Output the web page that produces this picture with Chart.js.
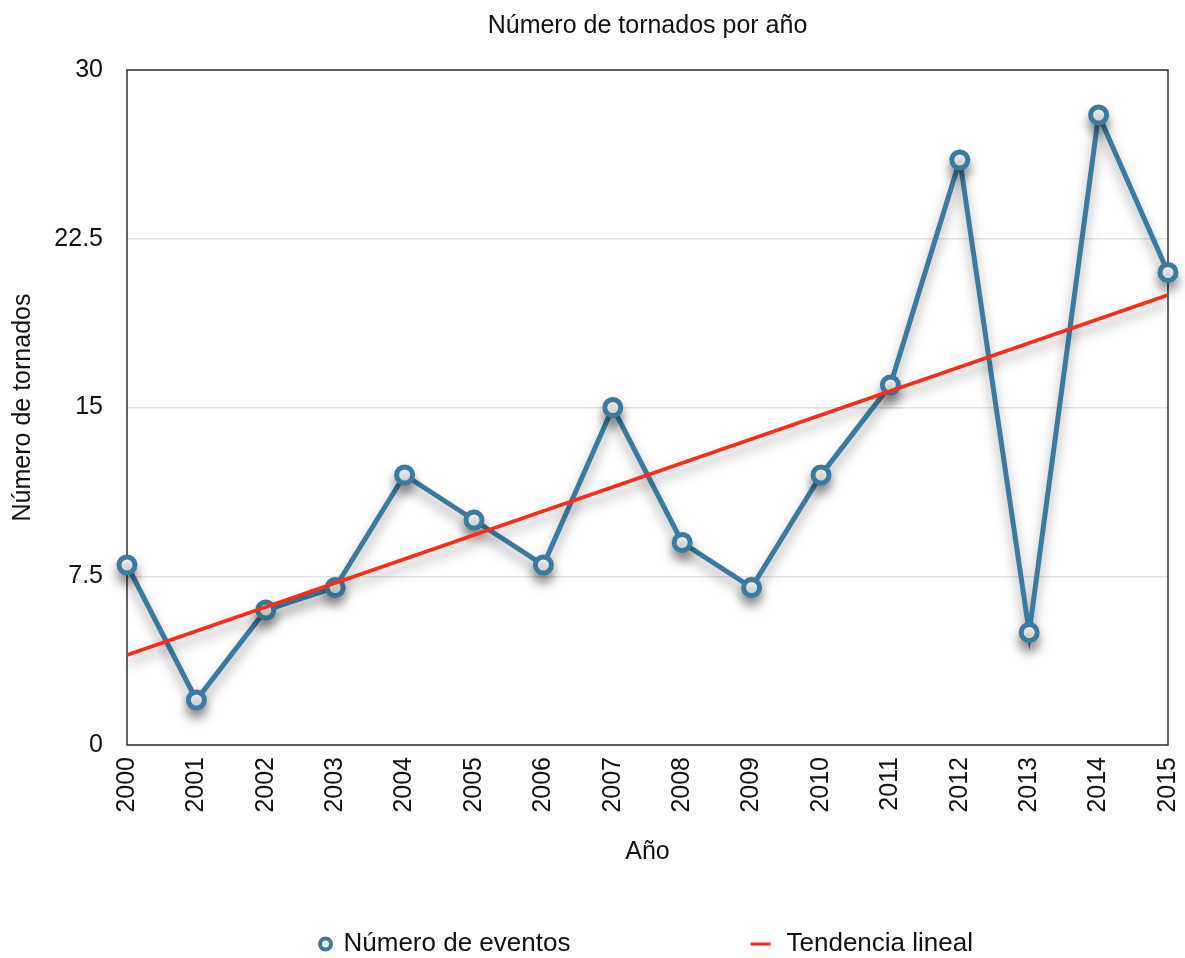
<!DOCTYPE html>
<html>
<head>
<meta charset="utf-8">
<title>Número de tornados por año</title>
<script src="https://cdn.jsdelivr.net/npm/chart.js@4.4.1/dist/chart.umd.min.js"></script>
<style>
  html, body { margin: 0; padding: 0; background: #fff; }
  #wrap { width: 1185px; height: 958px; }
</style>
</head>
<body>
<div id="wrap"><canvas id="c" width="1185" height="958"></canvas></div>
<script>
// years on the x axis
const years = ['2000','2001','2002','2003','2004','2005','2006','2007',
               '2008','2009','2010','2011','2012','2013','2014','2015'];
// tornado counts per year
const events = [8, 2, 6, 7, 12, 10, 8, 15, 9, 7, 12, 16, 26, 5, 28, 21];
// linear trend, read at both ends of the chart
const trendYears = ['2000', '2015'];
const trendValues = [4.0, 20.0];
// y axis
const yTicks = [0, 7.5, 15, 22.5, 30];

const FONT = '"Liberation Sans", Helvetica, Arial, sans-serif';
const BLUE = '#3a7b9f';
const RED = '#ff2b18';

Chart.defaults.font.family = FONT;
Chart.defaults.color = '#111';

// frame, soft shadow under lines and a bottom legend
const decor = {
  id: 'decor',
  beforeDatasetsDraw(chart) {
    const { ctx, chartArea: a } = chart;
    ctx.save();
    ctx.strokeStyle = '#333';
    ctx.lineWidth = 1.5;
    ctx.strokeRect(a.left, a.top, a.right - a.left, a.bottom - a.top);
    ctx.restore();
  },
  beforeDatasetDraw(chart) {
    const ctx = chart.ctx;
    ctx.save();
    ctx.shadowColor = 'rgba(0,0,0,0.38)';
    ctx.shadowBlur = 12;
    ctx.shadowOffsetY = 8;
  },
  afterDatasetDraw(chart) {
    chart.ctx.restore();
  },
  afterDraw(chart) {
    const { ctx, chartArea: a } = chart;
    const cx = (a.left + a.right) / 2;
    const y = 944;
    ctx.save();
    ctx.font = '26px ' + FONT;
    ctx.textBaseline = 'middle';
    // circle marker + label
    ctx.beginPath();
    ctx.arc(cx - 322, y, 5.5, 0, Math.PI * 2);
    ctx.fillStyle = '#fff';
    ctx.fill();
    ctx.lineWidth = 4;
    ctx.strokeStyle = BLUE;
    ctx.stroke();
    ctx.fillStyle = '#111';
    ctx.fillText('Número de eventos', cx - 304, y);
    // line marker + label
    ctx.beginPath();
    ctx.moveTo(cx + 103, y);
    ctx.lineTo(cx + 123, y);
    ctx.lineWidth = 3;
    ctx.strokeStyle = RED;
    ctx.stroke();
    ctx.fillText('Tendencia lineal', cx + 139, y);
    ctx.restore();
  }
};

new Chart(document.getElementById('c').getContext('2d'), {
  type: 'line',
  data: {
    labels: years,
    datasets: [
      {
        label: 'Número de eventos',
        data: events,
        borderColor: BLUE,
        borderWidth: 5,
        backgroundColor: '#fff',
        pointBackgroundColor: '#fff',
        pointBorderColor: BLUE,
        pointBorderWidth: 5,
        pointRadius: 8,
        tension: 0,
        clip: false,
        order: 2
      },
      {
        label: 'Tendencia lineal',
        data: trendYears.map((yr, i) => ({ x: yr, y: trendValues[i] })),
        borderColor: RED,
        borderWidth: 3.5,
        pointRadius: 0,
        tension: 0,
        order: 1
      }
    ]
  },
  options: {
    responsive: false,
    animation: false,
    layout: { padding: { top: 2, right: 17, bottom: 83, left: 0 } },
    plugins: {
      legend: { display: false },
      tooltip: { enabled: false },
      title: {
        display: true,
        text: 'Número de tornados por año',
        fullSize: false,
        color: '#111',
        font: { size: 25, weight: 'normal' },
        padding: { top: 9, bottom: 29 }
      }
    },
    scales: {
      x: {
        type: 'category',
        offset: false,
        grid: { display: false, drawTicks: false },
        border: { display: false },
        ticks: {
          font: { size: 25 },
          color: '#111',
          maxRotation: 90,
          minRotation: 90,
          padding: 12,
          autoSkip: false
        },
        title: {
          display: true,
          text: 'Año',
          color: '#111',
          font: { size: 25 },
          padding: { top: 4, bottom: 8 }
        },
        afterFit(s) {
          s.height = 130;
          s.paddingLeft = 0;
          s.paddingRight = 0;
        }
      },
      y: {
        min: 0,
        max: 30,
        grid: { color: '#e3e3e3', lineWidth: 1.5, drawTicks: false },
        border: { display: false },
        afterBuildTicks(s) { s.ticks = yTicks.map(v => ({ value: v })); },
        ticks: {
          font: { size: 25 },
          color: '#111',
          padding: 24,
          callback: v => String(v)
        },
        title: {
          display: true,
          text: 'Número de tornados',
          color: '#111',
          font: { size: 25 },
          padding: { top: 8, bottom: 4 }
        },
        afterFit(s) { s.width = 127; }
      }
    }
  },
  plugins: [decor]
});
</script>
</body>
</html>
